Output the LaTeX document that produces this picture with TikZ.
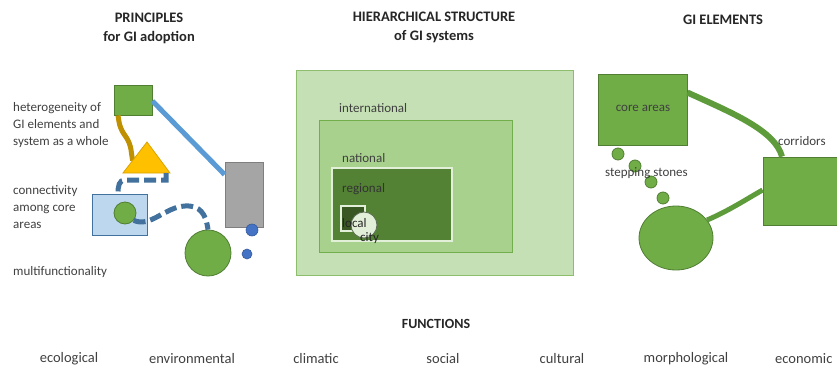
\documentclass[tikz,border=0pt]{standalone}
\usepackage{fontspec}
\setmainfont{Carlito}
\usetikzlibrary{calc,shapes.geometric}
\definecolor{gfill}{HTML}{70AD47}
\definecolor{gdraw}{HTML}{507E32}
\definecolor{gline}{HTML}{5E9B3A}
\definecolor{txt}{HTML}{404040}
\definecolor{htxt}{HTML}{262626}
\definecolor{lblue}{HTML}{5B9BD5}
\definecolor{dblue}{HTML}{41719C}
\definecolor{pblue}{HTML}{BDD7EE}
\definecolor{mblue}{HTML}{4472C4}
\definecolor{ochre}{HTML}{BF9000}
\definecolor{amber}{HTML}{FFC000}
\definecolor{amberd}{HTML}{D9A300}
\definecolor{grayf}{HTML}{A5A5A5}
\definecolor{grayd}{HTML}{7F7F7F}
\definecolor{h1}{HTML}{C5E0B4}
\definecolor{h1d}{HTML}{8DBE6E}
\definecolor{h2}{HTML}{A9D18E}
\definecolor{h2d}{HTML}{72AE4C}
\definecolor{h3}{HTML}{548235}
\definecolor{h4}{HTML}{385723}
\definecolor{hl}{HTML}{E2F0D9}
\definecolor{cityd}{HTML}{5B6E52}
\begin{document}
\begin{tikzpicture}[x=1pt,y=-1pt,
  body/.style={font=\fontsize{13}{17}\selectfont, text=txt, inner sep=0pt, align=left},
  head/.style={font=\bfseries\fontsize{14.5}{19}\selectfont, text=htxt, inner sep=0pt, align=center},
  func/.style={font=\fontsize{14.5}{17}\selectfont, text=txt, inner sep=0pt},
  box/.style={rectangle, draw, inner sep=0pt},
  gsq/.style={box, fill=gfill, draw=gdraw, line width=0.8pt},
  gdot/.style={circle, inner sep=0pt, fill=gfill, draw=gdraw, line width=0.8pt},
  bdot/.style={circle, inner sep=0pt, fill=mblue, draw=mblue!80!black, line width=0.6pt},
  blueline/.style={draw=lblue, line width=5pt},
  ochreline/.style={draw=ochre, line width=5pt, rounded corners=6pt},
  dashline/.style={draw=dblue, line width=5pt, dash pattern=on 12pt off 5pt},
  gconn/.style={draw=gline, line width=6pt}
]
\useasboundingbox (0,0) rectangle (837,367);

% ---------- headers ----------
\node[head] (h1) at (149,28.5) {PRINCIPLES\\for GI adoption};
\node[head] (h2) at (434,27.5) {HIERARCHICAL STRUCTURE\\of GI systems};
\node[head] (h3) at (723,20) {GI ELEMENTS};
\node[head, font=\bfseries\fontsize{14}{17}\selectfont] (hf) at (436,324) {FUNCTIONS};

% ---------- left panel: principles ----------
\node[body, anchor=west] (t1) at (13,125.5) {heterogeneity of\\GI elements and\\system as a whole};
\node[body, anchor=west] (t2) at (13,207) {connectivity\\among core\\areas};
\node[body, anchor=west] (t3) at (13,272) {multifunctionality};

\node[gsq, minimum width=38pt, minimum height=30pt] (sq) at (133,100) {};
\node[box, fill=grayf, draw=grayd, line width=0.8pt, minimum width=38pt, minimum height=65pt] (gr) at (244,194.5) {};
\draw[blueline] ([yshift=-1pt]sq.east) -- ([yshift=-13pt]gr.north west);

\coordinate (triA) at (147,142);
\coordinate (triL) at (123,173);
\coordinate (triR) at (170,173);
\draw[ochreline] ([xshift=-15pt]sq.south) -- (120,128) -- (130,143) -- ($(triA)!0.6!(triL)$);
\draw[fill=amber, draw=amberd, line width=0.8pt] (triA) -- (triR) -- (triL) -- cycle;

\node[box, fill=pblue, draw=dblue, line width=0.7pt, minimum width=55pt, minimum height=41pt] (lb) at (119.5,214.5) {};
\node[gdot, minimum size=22pt] (sc) at (125,213) {};
\node[gdot, minimum size=46pt] (bc) at (208,253) {};
\node[bdot, minimum size=12pt] (b1) at (252,230) {};
\node[bdot, minimum size=10pt] (b2) at (247,254) {};

\draw[dashline] ([xshift=-4pt]triR) -- ++(0,7) -- (125,180) .. controls (119,180) and (118,186) .. ([xshift=-1.5pt]lb.north);
\draw[dashline] (sc.-40) .. controls (150,228) and (165,207) .. (185,206) .. controls (200,205) and (206,214) .. (bc.north);

% ---------- middle panel: hierarchy ----------
\node[box, fill=h1, draw=h1d, line width=1pt, minimum width=277pt, minimum height=205pt] (intl) at (434.5,172.5) {};
\node[box, fill=h2, draw=h2d, line width=1pt, minimum width=193pt, minimum height=132pt] (natl) at (415.5,186) {};
\node[box, fill=h3, draw=hl, line width=1.5pt, minimum width=120pt, minimum height=73pt] (regl) at (392,204.5) {};
\node[box, fill=h4, draw=hl, line width=1.5pt, minimum width=24pt, minimum height=25pt] (locl) at (353,218.5) {};
\node[circle, inner sep=0pt, fill=hl, draw=cityd, line width=0.8pt, minimum size=26pt] (city) at (364,225) {};
\node[body, anchor=west] (lint) at (339,108) {international};
\node[body, anchor=west] (lnat) at (342,158) {national};
\node[body, anchor=west, text=black!80] (lreg) at (342,189) {regional};
\node[body, anchor=west, text=black!85] (lloc) at (342,223) {local};
\node[body, anchor=west, text=black!85] (lcity) at (360,238) {city};

% ---------- right panel: GI elements ----------
\node[gsq, minimum width=89pt, minimum height=71pt] (core) at (642.5,109.5) {};
\node[gsq, minimum width=78pt, minimum height=68pt] (core2) at (802,191) {};
\node[ellipse, inner sep=0pt, fill=gfill, draw=gdraw, line width=0.8pt, minimum width=74pt, minimum height=64pt] (big) at (676,238) {};
\draw[gconn] ([yshift=17pt]core.east) .. controls (730,112) and (775,130) .. ([xshift=-20pt]core2.north);
\draw[gconn, line width=5pt] (big.30) .. controls (730,210) and (745,200) .. ([yshift=1pt]core2.west);
\node[gdot, minimum size=12pt] (s1) at (618,154) {};
\node[gdot, minimum size=12pt] (s2) at (635,166) {};
\node[gdot, minimum size=12pt] (s3) at (651,182) {};
\node[gdot, minimum size=12pt] (s4) at (663,198) {};
\node[body] (lcore) at (643,108) {core areas};
\node[body, anchor=west] (lstep) at (605,173) {stepping stones};
\node[body, anchor=west] (lcorr) at (778,141) {corridors};

% ---------- functions ----------
\node[func] (f1) at (69,359) {ecological};
\node[func] (f2) at (192,359) {environmental};
\node[func] (f3) at (316,359) {climatic};
\node[func] (f4) at (443,359) {social};
\node[func] (f5) at (562,359) {cultural};
\node[func] (f6) at (686,359) {morphological};
\node[func, anchor=west] (f7) at (775,359) {economic};
\end{tikzpicture}
\end{document}
